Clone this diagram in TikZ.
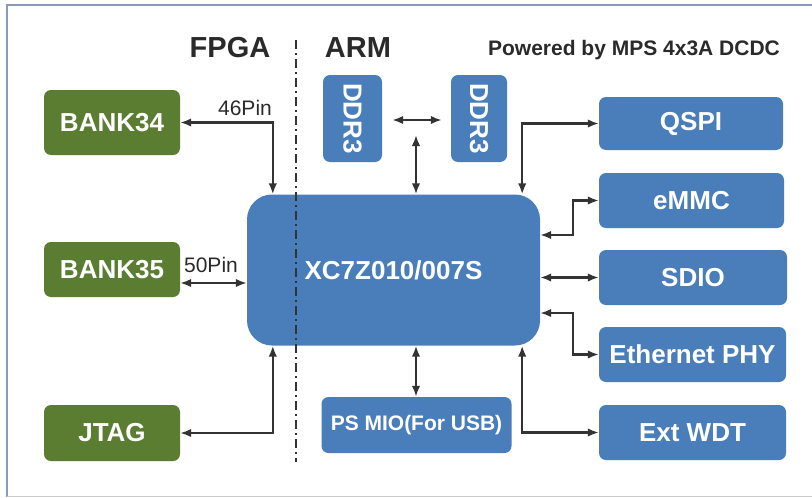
\documentclass[tikz,border=0pt]{standalone}
\usepackage{fontspec}
\setmainfont{Liberation Sans}
\usepackage{graphicx}
\usetikzlibrary{arrows.meta}

\definecolor{bankgreen}{HTML}{5A7D32}
\definecolor{chipblue}{HTML}{4A7EBB}
\definecolor{wirecol}{HTML}{333333}
\definecolor{framecol}{HTML}{8A9BB5}
\definecolor{textcol}{HTML}{2A2A2A}

\tikzset{
  boxfont/.style={font=\fontsize{26}{28}\selectfont\bfseries},
  greenbox/.style={fill=bankgreen, rounded corners=7pt, text=white, boxfont, inner sep=0pt, minimum width=136pt},
  bluebox/.style={fill=chipblue, rounded corners=7pt, text=white, boxfont, inner sep=0pt},
  link/.style={wirecol, line width=2.1pt, {Latex[length=11pt,width=8.5pt]}-{Latex[length=11pt,width=8.5pt]}},
  pinlabel/.style={text=textcol, font=\fontsize{21}{23}\selectfont},
  title/.style={text=textcol, font=\fontsize{29}{31}\selectfont\bfseries}
}

\begin{document}
\begin{tikzpicture}[x=1pt, y=-1pt]
            \useasboundingbox (0,0) rectangle (812,498);

            % frame
            \draw[framecol, line width=2pt] (7,497) -- (7,5) -- (812,5);
            \draw[black!20, line width=1.5pt] (7,496.5) -- (812,496.5);

            % headings
            \node[title] (fpga) at (230,48) {FPGA};
            \node[title] (arm) at (358,48) {ARM};
            \node[text=textcol, font=\fontsize{21}{23}\selectfont\bfseries] (power) at (634,50) {Powered by MPS 4x3A DCDC};

            % fpga side
            \node[greenbox, minimum height=65pt] (bank34) at (112,122.5) {BANK34};
            \node[greenbox, minimum height=55pt] (bank35) at (112,269.5) {BANK35};
            \node[greenbox, minimum height=56pt] (jtag) at (112,433) {JTAG};

            % chip
            \node[bluebox, rounded corners=25pt, minimum width=293pt, minimum height=151pt] (chip) at (393.5,270) {XC7Z010/007S};

            % memory
            \node[bluebox, minimum width=59pt, minimum height=87pt] (ddrl) at (352.5,118.5) {\rotatebox{-90}{DDR3}};
            \node[bluebox, minimum width=56pt, minimum height=87pt] (ddrr) at (479,118.5) {\rotatebox{-90}{DDR3}};
            \node[bluebox, minimum width=190pt, minimum height=56pt, font=\fontsize{21}{23}\selectfont\bfseries] (mio) at (416.5,425) {PS MIO(For USB)};

            % arm side
            \node[bluebox, minimum width=184pt, minimum height=53pt] (qspi) at (691,123.5) {QSPI};
            \node[bluebox, minimum width=185pt, minimum height=55pt] (emmc) at (691.5,200.5) {eMMC};
            \node[bluebox, minimum width=188pt, minimum height=55pt] (sdio) at (693,277.5) {SDIO};
            \node[bluebox, minimum width=187pt, minimum height=55pt] (eth) at (692.5,354.5) {Ethernet PHY};
            \node[bluebox, minimum width=187pt, minimum height=55pt] (wdt) at (692.5,432.5) {Ext WDT};

            % links
            \coordinate (ddrbus) at (416,135);
            \draw[link] (bank34.east) -| ([xshift=26pt]chip.north west);
            \draw[link] ([yshift=-13.5pt]bank35.east) -- ([yshift=-13.5pt]bank35.east -| chip.west);
            \draw[link] (jtag.east) -| ([xshift=26pt]chip.south west);
            \draw[link, shorten <=10pt, shorten >=9pt] (ddrl.east |- 0,120) -- (ddrr.west |- 0,120);
            \draw[link] (ddrbus) -- (ddrbus |- chip.north);
            \draw[link] (mio.north -| ddrbus) -- (ddrbus |- chip.south);
            \draw[link] (qspi.west) -| ([xshift=-18pt]chip.north east);
            \draw[link] ([yshift=35pt]chip.east) -- ++(33,0) |- (emmc.west);
            \draw[link] (chip.east |- sdio.west) -- (sdio.west);
            \draw[link] ([yshift=-43pt]chip.east) -- ++(33,0) |- (eth.west);
            \draw[link] (wdt.west) -| ([xshift=-18pt]chip.south east);

            % pin counts
            \node[pinlabel] (pin46) at (245,108) {46Pin};
            \node[pinlabel] (pin50) at (211,265) {50Pin};

            % divider
            \draw[wirecol, line width=1.5pt, dash pattern=on 9pt off 4pt on 2pt off 4pt] (296,40) -- (296,462);
        \end{tikzpicture}
\end{document}
